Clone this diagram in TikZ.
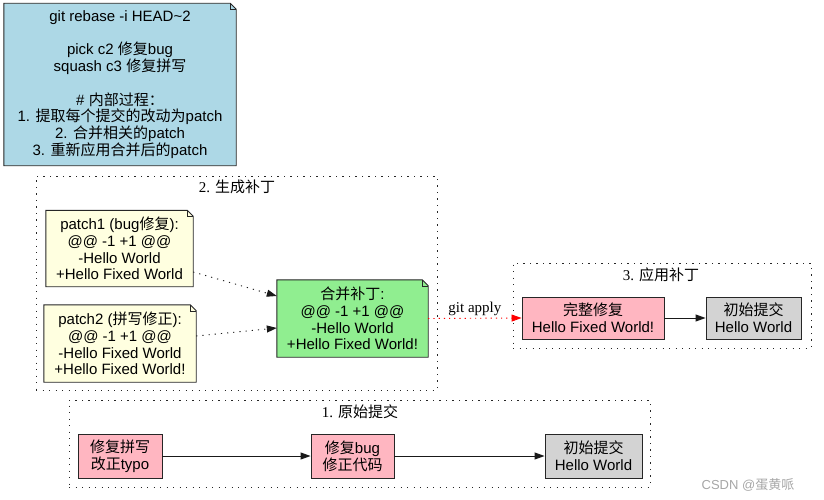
\documentclass[tikz,border=0pt]{standalone}
\usepackage{fontspec}
\setmainfont{Liberation Sans}
\newfontfamily\cjkf{Noto Sans CJK SC}
\newfontfamily\serf{Liberation Serif}
\newcommand\zh[1]{{\cjkf #1}}
\usetikzlibrary{arrows.meta,backgrounds}
\definecolor{gvblue}{HTML}{ADD8E6}
\definecolor{gvyellow}{HTML}{FFFFE0}
\definecolor{gvgreen}{HTML}{90EE90}
\definecolor{gvpink}{HTML}{FFB6C1}
\definecolor{gvgray}{HTML}{D3D3D3}
\tikzset{
  every node/.style={font=\fontsize{15}{16.7}\selectfont, inner sep=0pt, align=center},
  box/.style={draw=black!85, line width=0.9pt, minimum height=44pt},
  cluster/.style={draw=black!85, line width=0.9pt, dash pattern=on 1.2pt off 5.3pt},
  clabel/.style={font=\serf\fontsize{15}{17}\selectfont},
  flow/.style={-{Triangle[length=10pt,width=7pt]}, line width=0.9pt, black!90},
  patchflow/.style={flow, dash pattern=on 1.2pt off 5pt},
  applyflow/.style={-{Triangle[length=10pt,width=7pt]}, line width=0.9pt, red, dash pattern=on 1.2pt off 4pt},
}
\newcommand\notepath[2]{%
  \draw[fill=#2, draw=black!85, line width=0.9pt] (#1.south west) -- (#1.north west) -- ([xshift=-6pt]#1.north east) -- ([yshift=-6pt]#1.north east) -- (#1.south east) -- cycle;
  \draw[draw=black!85, line width=0.6pt] ([xshift=-6pt]#1.north east) -- ([xshift=-6pt,yshift=-6pt]#1.north east) -- ([yshift=-6pt]#1.north east);
}
\begin{document}
\begin{tikzpicture}[x=1pt,y=-1pt]
\useasboundingbox (0,0) rectangle (824,500);

% clusters
\node[cluster, minimum width=401pt, minimum height=214pt] (cl2) at (236.5,283) {};
\node[clabel] (cl2lab) at (237,187) {2. \zh{生成补丁}};
\node[cluster, minimum width=298pt, minimum height=85pt] (cl3) at (662,305.5) {};
\node[clabel] (cl3lab) at (661,275) {3. \zh{应用补丁}};
\node[cluster, minimum width=581pt, minimum height=87pt] (cl1) at (359.5,443.5) {};
\node[clabel] (cl1lab) at (360,412) {1. \zh{原始提交}};

% notes
\node[minimum width=232pt, minimum height=162pt] (rebase) at (120,84.5) {git rebase -i HEAD\textasciitilde 2\\ ~ \\pick c2 \zh{修复}bug\\squash c3 \zh{修复拼写}\\ ~ \\\# \zh{内部过程：}\\1. \zh{提取每个提交的改动为}patch\\2. \zh{合并相关的}patch\\3. \zh{重新应用合并后的}patch};
\node[minimum width=147pt, minimum height=76pt] (patch1) at (119.5,248.5) {patch1 (bug\zh{修复}):\\@@ -1 +1 @@\\-Hello World\\+Hello Fixed World};
\node[minimum width=152pt, minimum height=77pt] (patch2) at (120,343.5) {patch2 (\zh{拼写修正}):\\@@ -1 +1 @@\\-Hello Fixed World\\+Hello Fixed World!};
\node[minimum width=151pt, minimum height=77pt] (merge) at (352.5,318.5) {\zh{合并补丁}:\\@@ -1 +1 @@\\-Hello World\\+Hello Fixed World!};

\begin{pgfonlayer}{background}
\notepath{rebase}{gvblue}
\notepath{patch1}{gvyellow}
\notepath{patch2}{gvyellow}
\notepath{merge}{gvgreen}
\end{pgfonlayer}

% boxes
\node[box, fill=gvpink, minimum width=142pt, minimum height=42pt] (fix) at (593,318) {\zh{完整修复}\\Hello Fixed World!};
\node[box, fill=gvgray, minimum width=95pt, minimum height=42pt] (init3) at (753.5,318) {\zh{初始提交}\\Hello World};
\node[box, fill=gvpink, minimum width=84pt] (c3) at (120,456) {\zh{修复拼写}\\\zh{改正}typo};
\node[box, fill=gvpink, minimum width=83pt] (c2) at (352.5,456) {\zh{修复}bug\\\zh{修正代码}};
\node[box, fill=gvgray, minimum width=97pt] (c1) at (593.5,456) {\zh{初始提交}\\Hello World};

% edges
\draw[patchflow] ([yshift=-23.5pt]patch1.east) -- ([yshift=22.5pt]merge.west);
\draw[patchflow] ([yshift=7.5pt]patch2.east) -- ([yshift=-9.5pt]merge.west);
\draw[applyflow] (merge.east) -- (fix.west) node[midway, above=2pt, clabel, text=black] (applylab) {git apply};
\draw[flow] (fix) -- (init3);
\draw[flow] (c3) -- (c2);
\draw[flow] (c2) -- (c1);

\node[text=black!35, font=\fontsize{13}{15}\selectfont] (mark) at (748,485) {CSDN @\zh{蛋黄哌}};
\end{tikzpicture}
\end{document}
